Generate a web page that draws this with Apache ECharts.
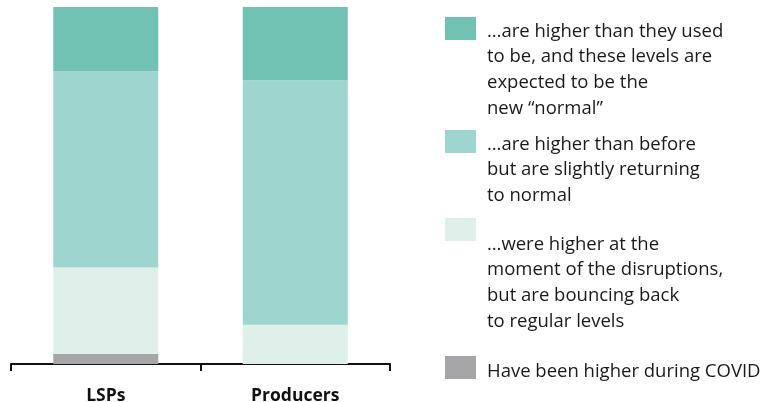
<!DOCTYPE html>
<html>
<head>
<meta charset="utf-8">
<script src="https://cdn.jsdelivr.net/npm/echarts@6/dist/echarts.min.js"></script>
<style>html,body{margin:0;padding:0;background:#fff}#c{width:764px;height:402px}</style>
</head>
<body>
<div id="c"></div>
<script>
const categories = ['LSPs', 'Producers'];
const seriesNames = [
  'Have been higher during COVID',
  '…were higher at the\nmoment of the disruptions,\nbut are bouncing back\nto regular levels',
  '…are higher than before\nbut are slightly returning\nto normal',
  '…are higher than they used\nto be, and these levels are\nexpected to be the\nnew “normal”'
];
const covidValues = [2.8, 0];
const bouncingValues = [24.2, 11];
const returningValues = [55, 68.5];
const newNormalValues = [18, 20.5];
const seriesValues = [covidValues, bouncingValues, returningValues, newNormalValues];
const colors = ['#A6A6A8', '#DFEFEA', '#9FD5CF', '#71C2B3'];

// legend layout (top to bottom: new normal, returning, bouncing, covid)
const legendOrder = [3, 2, 1, 0];
const iconTops = [17, 130, 218, 356];
const textExtra = [1.7, 1.7, 13.7, 2.7];
const LH = 25.6;
const FS = 18.5;
const ICON_W = 31, ICON_H = 23, ICON_BOX_W = 37;

const legends = legendOrder.map((si, k) => {
  const name = seriesNames[si];
  const n = name.split('\n').length;
  const H = n * LH + 2 * textExtra[k];
  const iconPath = 'path://M0,0L0,0M' + ICON_BOX_W + ',' + H + 'L' + ICON_BOX_W + ',' + H +
    'M0,0H' + ICON_W + 'V' + ICON_H + 'H0Z';
  return {
    data: [{name: name, icon: iconPath}],
    orient: 'vertical',
    left: 445,
    top: iconTops[k],
    padding: 0,
    itemGap: 0,
    itemWidth: ICON_BOX_W,
    itemHeight: H,
    selectedMode: false,
    textStyle: {
      fontFamily: 'Open Sans',
      fontSize: FS,
      lineHeight: LH,
      color: '#1a1a1a'
    }
  };
});

const chart = echarts.init(document.getElementById('c'), null, {renderer: 'canvas'});
chart.setOption({
  animation: false,
  grid: {left: 11, right: 374, top: 7, bottom: 38, containLabel: false, outerBoundsMode: 'none'},
  legend: legends,
  xAxis: {
    type: 'category',
    data: categories,
    boundaryGap: true,
    axisLine: {show: true, lineStyle: {color: '#111', width: 2}},
    axisTick: {show: true, length: 7, lineStyle: {color: '#111', width: 2}},
    axisLabel: {
      margin: 23,
      fontFamily: 'Open Sans',
      fontWeight: 'bold',
      fontSize: 17.5,
      color: '#111'
    },
    splitLine: {show: false}
  },
  yAxis: {
    type: 'value', min: 0, max: 100, show: false,
    splitLine: {show: false}
  },
  series: seriesValues.map((vals, i) => ({
    name: seriesNames[i],
    type: 'bar',
    stack: 'total',
    barWidth: 105,
    data: vals,
    itemStyle: {color: colors[i]},
    emphasis: {disabled: true}
  }))
});
</script>
</body>
</html>
